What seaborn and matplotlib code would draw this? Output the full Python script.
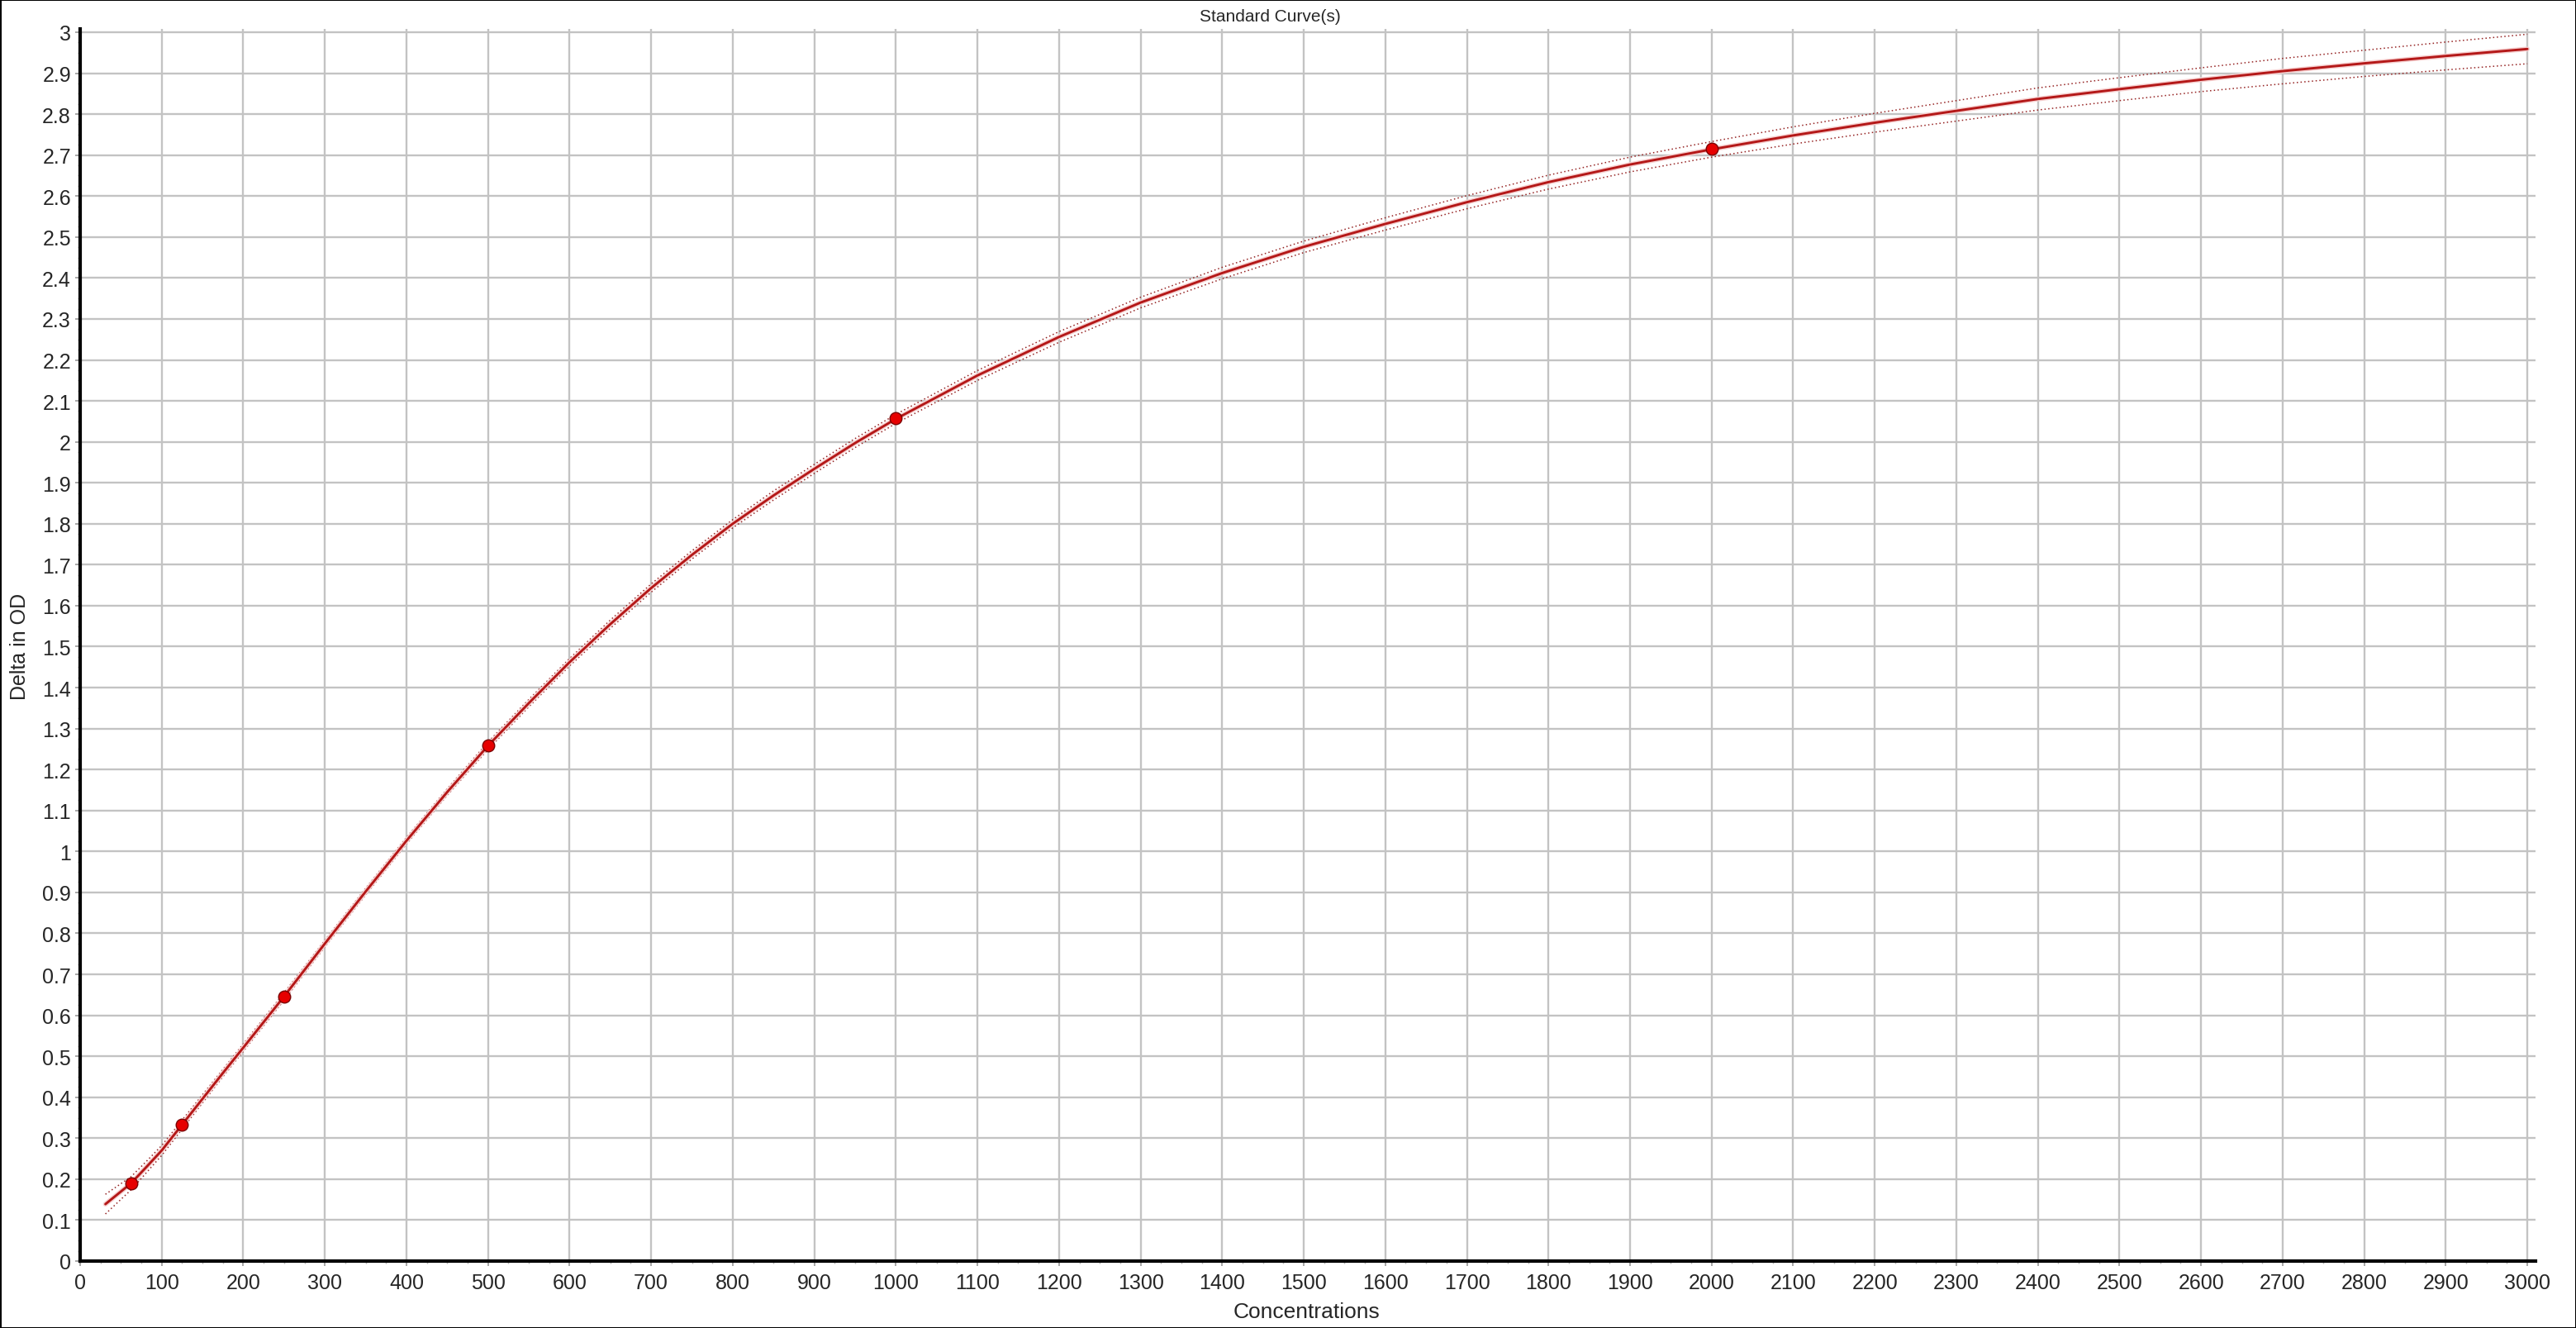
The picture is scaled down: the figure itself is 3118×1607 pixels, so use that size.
import numpy as np
import pandas as pd
import matplotlib
matplotlib.use("Agg")
import matplotlib.pyplot as plt
import seaborn as sns
from matplotlib.ticker import MultipleLocator, FuncFormatter

# standard points
konsantrasyon = [62.5, 125, 250, 500, 1000, 2000]
delta_od = [0.190, 0.333, 0.646, 1.258, 2.057, 2.715]

# fitted curve and its band
egri_x = [31, 62.5, 80, 100, 125, 150, 175, 200, 250, 300, 350, 400, 450, 500,
          550, 600, 650, 700, 750, 800, 850, 900, 950, 1000, 1100, 1200, 1300,
          1400, 1500, 1600, 1700, 1800, 1900, 2000, 2100, 2200, 2300, 2400,
          2500, 2600, 2700, 2800, 2900, 3000]
egri_y = [0.139, 0.190, 0.227, 0.270, 0.333, 0.396, 0.459, 0.521, 0.646, 0.775,
          0.902, 1.026, 1.145, 1.258, 1.362, 1.462, 1.555, 1.643, 1.724, 1.800,
          1.869, 1.934, 1.997, 2.056, 2.162, 2.256, 2.340, 2.412, 2.476, 2.532,
          2.585, 2.634, 2.677, 2.714, 2.748, 2.779, 2.808, 2.837, 2.861, 2.884,
          2.905, 2.924, 2.942, 2.959]
ust_sinir = [0.163, 0.206, 0.241, 0.282, 0.344, 0.406, 0.468, 0.530, 0.655, 0.783,
             0.910, 1.034, 1.153, 1.267, 1.371, 1.471, 1.565, 1.653, 1.734, 1.810,
             1.880, 1.945, 2.008, 2.067, 2.174, 2.269, 2.353, 2.426, 2.490, 2.547,
             2.601, 2.651, 2.695, 2.733, 2.769, 2.802, 2.833, 2.864, 2.889, 2.913,
             2.936, 2.956, 2.976, 2.995]
alt_sinir = [0.115, 0.174, 0.213, 0.258, 0.322, 0.386, 0.450, 0.512, 0.637, 0.767,
             0.894, 1.018, 1.137, 1.249, 1.353, 1.453, 1.545, 1.633, 1.714, 1.790,
             1.858, 1.923, 1.986, 2.045, 2.150, 2.243, 2.327, 2.398, 2.462, 2.517,
             2.569, 2.617, 2.659, 2.695, 2.727, 2.756, 2.783, 2.810, 2.833, 2.855,
             2.874, 2.892, 2.908, 2.923]

sns.set_theme(style="whitegrid")
plt.rcParams["font.family"] = ["Liberation Sans", "DejaVu Sans"]
plt.rcParams["figure.autolayout"] = False
plt.rcParams["figure.constrained_layout.use"] = False
plt.rcParams["savefig.bbox"] = "standard"

egri = pd.DataFrame({"x": egri_x, "y": egri_y, "ust": ust_sinir, "alt": alt_sinir})
noktalar = pd.DataFrame({"x": konsantrasyon, "y": delta_od})

fig = plt.figure(figsize=(31.18, 16.08), dpi=100, layout="none")
fig.patch.set_facecolor("white")
fig.patch.set_edgecolor("black")
fig.patch.set_linewidth(2)
ax = fig.add_axes([97 / 3118, 81 / 1608, 2972 / 3118, 1491 / 1608])
ax.set_facecolor("white")

ax.grid(True, which="major", color="#c3c3c3", linewidth=1.7)
ax.grid(False, which="minor")

# confidence band (dotted), fitted curve, standards
sns.lineplot(data=egri, x="x", y="ust", ax=ax, color="#962424", linewidth=1.1,
             linestyle=(0, (1, 2)), sort=False)
sns.lineplot(data=egri, x="x", y="alt", ax=ax, color="#962424", linewidth=1.1,
             linestyle=(0, (1, 2)), sort=False)
sns.lineplot(data=egri, x="x", y="y", ax=ax, color="#f6d0d0", linewidth=4.2,
             sort=False)
sns.lineplot(data=egri, x="x", y="y", ax=ax, color="#b41818", linewidth=2.1,
             sort=False)
sns.scatterplot(data=noktalar, x="x", y="y", ax=ax, color="#e60000", s=110,
                edgecolor="#7a0000", linewidth=1.0, zorder=5)

ax.set_xlim(0, 3010)
ax.set_ylim(0, 3.008)
ax.xaxis.set_major_locator(MultipleLocator(100))
ax.xaxis.set_minor_locator(MultipleLocator(25))
ax.yaxis.set_major_locator(MultipleLocator(0.1))
ax.yaxis.set_minor_locator(MultipleLocator(0.025))
ax.xaxis.set_major_formatter(FuncFormatter(lambda v, p: f"{int(round(v))}"))
ax.yaxis.set_major_formatter(FuncFormatter(lambda v, p: f"{round(v, 1):g}"))

ax.tick_params(axis="both", which="major", labelsize=18, length=4, width=1.2,
               color="#999999", direction="out", left=True, bottom=True)
ax.tick_params(axis="both", which="minor", length=2.5, width=1.0,
               color="#bbbbbb", direction="out", left=True, bottom=True)
ax.tick_params(axis="x", which="major", pad=6)
ax.tick_params(axis="y", which="major", pad=4)

for kenar in ["top", "right"]:
    ax.spines[kenar].set_visible(False)
for kenar in ["left", "bottom"]:
    ax.spines[kenar].set_visible(True)
    ax.spines[kenar].set_color("black")
    ax.spines[kenar].set_linewidth(3.0)

ax.set_xlabel("")
ax.set_ylabel("")
fig.text(1581 / 3118, 1 - 1588 / 1608, "Concentrations", fontsize=19,
         ha="center", va="center")
fig.text(24 / 3118, 1 - 782 / 1608, "Delta in OD", fontsize=18, rotation=90,
         ha="center", va="center")
fig.text(1537 / 3118, 1 - 20 / 1608, "Standard Curve(s)", fontsize=15,
         ha="center", va="center")

fig.savefig("out.png", dpi=100, facecolor="white", edgecolor="black")
